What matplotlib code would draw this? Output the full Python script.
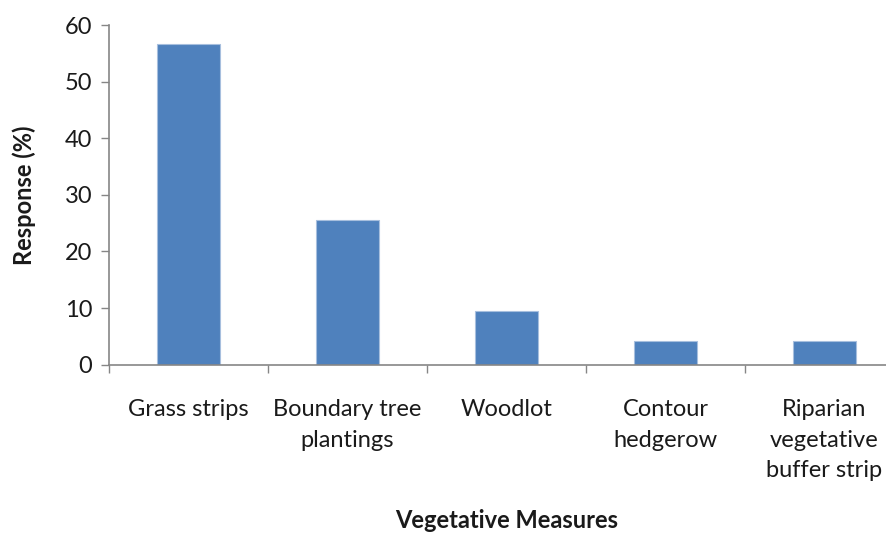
import numpy as np
import matplotlib.pyplot as plt
from matplotlib.ticker import FixedLocator

plt.rcParams['font.family'] = ['Lato', 'DejaVu Sans']

# 植被措施调查结果
categories = ['Grass strips', 'Boundary tree\nplantings', 'Woodlot',
              'Contour\nhedgerow', 'Riparian\nvegetative\nbuffer strip']
response = [56.6, 25.6, 9.5, 4.1, 4.1]
yticks = [0, 10, 20, 30, 40, 50, 60]

bar_color = '#4F81BD'
axis_color = '#868686'
text_color = '#1a1a1a'

fig = plt.figure(figsize=(8.87, 5.39), dpi=100)
# 右侧坐标轴超出画布
ax = fig.add_axes([109/887, 1-364.7/539, 795/887, 339.6/539])

x = np.arange(len(categories))
ax.bar(x, response, width=0.4, color=bar_color, edgecolor='#A7BFDE', linewidth=0.8, zorder=2)

ax.set_xlim(-0.5, len(categories) - 0.5)
ax.set_ylim(0, 60)
ax.set_yticks(yticks)
ax.set_xticks(x)
ax.set_xticklabels(categories, fontsize=17, color=text_color, linespacing=1.55, va='top')
ax.xaxis.set_minor_locator(FixedLocator(np.arange(len(categories) + 1) - 0.5))
ax.tick_params(axis='x', which='major', length=0, pad=25)
ax.tick_params(axis='x', which='minor', length=6, color=axis_color, width=1)
ax.tick_params(axis='y', length=6, color=axis_color, width=1, labelsize=17,
               labelcolor=text_color, pad=6)

for side in ['top', 'right']:
    ax.spines[side].set_visible(False)
for side in ['left', 'bottom']:
    ax.spines[side].set_color(axis_color)
    ax.spines[side].set_linewidth(1.2)

ax.set_ylabel('Response (%)', fontsize=17, fontweight='bold', color=text_color, labelpad=21)
ax.set_xlabel('Vegetative Measures', fontsize=17, fontweight='bold', color=text_color, labelpad=20)

fig.savefig('out.png', dpi=100)
